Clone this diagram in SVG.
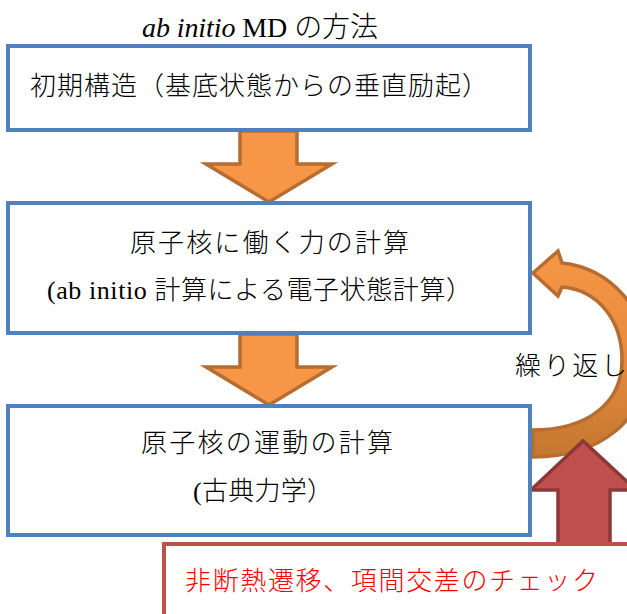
<svg xmlns="http://www.w3.org/2000/svg" width="627" height="614" viewBox="0 0 627 614">
<style>
.box{fill:#fff;stroke:#4F81BD;stroke-width:4}
.arr{fill:#F79646;stroke:#B66D31;stroke-width:3.5;stroke-linejoin:miter}
.t{font-family:"Liberation Serif","Noto Sans CJK JP",serif;font-size:26px;font-weight:300;fill:#000}
</style>
<defs>
<linearGradient id="cg" x1="0" y1="0" x2="0" y2="1">
<stop offset="0" stop-color="#F79646"/>
<stop offset="0.55" stop-color="#E58A3E"/>
<stop offset="1" stop-color="#C3772F"/>
</linearGradient>
</defs>
<text class="t" x="142" y="37" style="font-size:28px" textLength="236" lengthAdjust="spacing"><tspan font-style="italic">ab initio</tspan> MD の方法</text>
<g id="connectors">
<path class="arr" d="M240,131 L297,131 L297,164 L332,164 L269,202 L206,164 L240,164 Z"/>
<path class="arr" d="M240,334 L297,334 L297,367 L332,367 L269,405 L206,367 L240,367 Z"/>
<path d="M533,273 L558,251 L562,263 C610,268 648,310 648,360 C648,420 600,457 533,457 L533,430 C585,430 622,405 622,360 C622,320 598,290 562,287 L558,296 Z" fill="url(#cg)" stroke="#B66D31" stroke-width="3.5"/>
<path d="M558,545 L558,490 L531,490 L583,441 L636,490 L610,490 L610,545 Z" fill="#C0504D" stroke="#8C3836" stroke-width="3.5"/>
</g>
<g id="n1">
<rect class="box" x="8" y="46" width="522" height="84"/>
<text class="t" x="30" y="95" textLength="458" lengthAdjust="spacing">初期構造（基底状態からの垂直励起）</text>
</g>
<g id="n2">
<rect class="box" x="8" y="203" width="522" height="130"/>
<text class="t" x="130" y="252" textLength="279" lengthAdjust="spacing">原子核に働く力の計算</text>
<text class="t" x="47" y="299" textLength="425" lengthAdjust="spacing">(ab initio 計算による電子状態計算）</text>
</g>
<g id="n3">
<rect class="box" x="8" y="406" width="522" height="129"/>
<text class="t" x="141" y="452" textLength="252" lengthAdjust="spacing">原子核の運動の計算</text>
<text class="t" x="193" y="500" textLength="140" lengthAdjust="spacing">(古典力学）</text>
</g>
<g id="n4">
<rect x="164" y="544" width="480" height="90" fill="#fff" stroke="#C0504D" stroke-width="4"/>
<text class="t" x="185" y="590" textLength="413" lengthAdjust="spacing" style="fill:#FF0000">非断熱遷移、項間交差のチェック</text>
</g>
<g id="n5">
<text class="t" x="515" y="375" textLength="112" lengthAdjust="spacing">繰り返し</text>
</g>
</svg>
